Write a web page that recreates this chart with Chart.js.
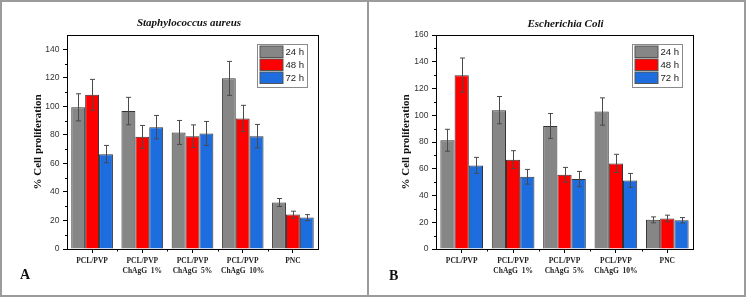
<!DOCTYPE html>
<html>
<head>
<meta charset="utf-8">
<script src="https://cdn.jsdelivr.net/npm/chart.js@4.4.0/dist/chart.umd.min.js"></script>
<style>
body { margin: 0; background: #fff; }
#frame { position: relative; width: 747px; height: 299px; overflow: hidden; }
canvas { position: absolute; top: 0; }
.box { position: absolute; top: 0; left: 0; width: 746px; height: 297px; border: 2px solid #9b9b9b; box-sizing: border-box; }
.divider { position: absolute; top: 0; left: 367px; width: 2px; height: 297px; background: #9b9b9b; }
.letter { position: absolute; font: bold 14px 'Liberation Serif', serif; color: #111; }
</style>
</head>
<body>
<div id="frame">
  <canvas id="gA" width="368" height="299" style="left:0"></canvas>
  <canvas id="gB" width="379" height="299" style="left:368px"></canvas>
  <div class="box"></div>
  <div class="divider"></div>
  <div class="letter" style="left:20px;top:267px">A</div>
  <div class="letter" style="left:389px;top:268px">B</div>
</div>
<script>
// categories + series
const categories = [['PCL/PVP'], ['PCL/PVP', 'ChAgG  1%'], ['PCL/PVP', 'ChAgG  5%'], ['PCL/PVP', 'ChAgG  10%'], ['PNC']];
const seriesLabels = ['24 h', '48 h', '72 h'];
const seriesColors = ['#868686', '#ff0000', '#1e6ddf'];

// A - Staphylococcus aureus
const staph24 = [99.3, 96.7, 81.7, 119.6, 32.6];
const staph48 = [108.1, 78.6, 79.1, 91.5, 24.1];
const staph72 = [66.5, 85.4, 81.0, 79.1, 22.0];
const staphErr24 = [9.5, 9.6, 8.4, 11.9, 2.8];
const staphErr48 = [10.8, 8.0, 7.9, 9.2, 2.4];
const staphErr72 = [6.1, 8.2, 8.4, 8.2, 2.1];

// B - Escherichia Coli
const coli24 = [81.3, 103.8, 92.0, 102.8, 21.8];
const coli48 = [130.0, 66.8, 55.5, 64.0, 22.8];
const coli72 = [62.5, 54.0, 52.3, 51.3, 21.5];
const coliErr24 = [8.2, 10.2, 9.3, 10.2, 2.2];
const coliErr48 = [12.8, 6.7, 5.5, 6.8, 2.5];
const coliErr72 = [6.0, 5.5, 5.7, 5.2, 2.0];

const serif = "'Liberation Serif', 'Times New Roman', serif";
const sans = "'Liberation Sans', Arial, sans-serif";

// error bars, frame, minor ticks, legend, title
const panelPlugin = {
  id: 'panel',
  afterDatasetsDraw(chart, args, opts) {
    const ctx = chart.ctx;
    const x = chart.scales.x;
    const y = chart.scales.y;
    const a = chart.chartArea;
    ctx.save();
    ctx.strokeStyle = '#4a4a4a';
    ctx.lineWidth = 1;
    chart.data.datasets.forEach((ds, di) => {
      chart.getDatasetMeta(di).data.forEach((bar, i) => {
        const v = ds.data[i], e = ds.errors[i];
        const top = y.getPixelForValue(v + e), bot = y.getPixelForValue(v - e);
        const px = Math.round(bar.x) + 0.5;
        ctx.beginPath();
        ctx.moveTo(px, top); ctx.lineTo(px, bot);
        ctx.moveTo(px - 2.5, top); ctx.lineTo(px + 2.5, top);
        ctx.moveTo(px - 2.5, bot); ctx.lineTo(px + 2.5, bot);
        ctx.stroke();
      });
    });

    // plot frame
    ctx.strokeStyle = '#000';
    ctx.strokeRect(Math.round(a.left) + 0.5, Math.round(a.top) + 0.5, Math.round(a.right - a.left), Math.round(a.bottom - a.top));

    // minor ticks
    ctx.beginPath();
    for (let v = 10; v < y.max; v += 20) {
      const py = Math.round(y.getPixelForValue(v)) + 0.5;
      ctx.moveTo(a.left - 2, py); ctx.lineTo(a.left, py);
    }
    for (let i = 0; i < categories.length - 1; i++) {
      const px = Math.round(x.getPixelForValue(i + 0.5)) + 0.5;
      ctx.moveTo(px, a.bottom); ctx.lineTo(px, a.bottom + 2.5);
    }
    ctx.stroke();

    // legend
    const lw = 50, lh = 43;
    const lx = Math.round(a.right - 11.5 - lw) + 0.5, ly = Math.round(a.top + 9) + 0.5;
    ctx.fillStyle = '#fff';
    ctx.fillRect(lx, ly, lw, lh);
    ctx.strokeStyle = '#8a8a8a';
    ctx.strokeRect(lx, ly, lw, lh);
    ctx.font = '9.6px ' + sans;
    ctx.textBaseline = 'middle';
    chart.data.datasets.forEach((ds, i) => {
      const ry = ly + 1.5 + i * 13;
      ctx.fillStyle = ds.backgroundColor;
      ctx.fillRect(lx + 2.5, ry, 23, 11.5);
      ctx.strokeStyle = '#555';
      ctx.strokeRect(lx + 2.5, ry, 23, 11.5);
      ctx.fillStyle = '#222';
      ctx.fillText(ds.label, lx + 28, ry + 6.5);
    });

    // title
    ctx.font = 'italic bold 11px ' + serif;
    ctx.fillStyle = '#111';
    ctx.textAlign = 'center';
    ctx.fillText(opts.text, (a.left + a.right) / 2 + opts.dx, opts.y);
    ctx.restore();
  }
};

function makeChart(id, title, dx, ty, ymax, axisWidth, padRight, vals, errs) {
  const datasets = seriesLabels.map((lab, i) => ({
    label: lab,
    data: vals[i],
    errors: errs[i],
    backgroundColor: seriesColors[i],
    borderColor: '#333',
    borderWidth: 1
  }));
  return new Chart(document.getElementById(id), {
    type: 'bar',
    data: { labels: categories, datasets: datasets },
    plugins: [panelPlugin],
    options: {
      responsive: false,
      animation: false,
      layout: { padding: { top: 35, right: padRight, left: 0, bottom: 0 } },
      datasets: { bar: { categoryPercentage: 0.83, barPercentage: 1 } },
      plugins: {
        legend: { display: false },
        tooltip: { enabled: false },
        panel: { text: title, dx: dx, y: ty }
      },
      scales: {
        x: {
          grid: { display: true, drawOnChartArea: false, offset: false, tickLength: 4, color: '#000', tickColor: '#000' },
          border: { color: '#000', width: 1 },
          ticks: { font: { family: serif, weight: 'bold', size: 7.5, lineHeight: 1.3 }, color: '#222', padding: 3, maxRotation: 0, autoSkip: false },
          afterFit(s) { s.height = 50; }
        },
        y: {
          min: 0,
          max: ymax,
          ticks: { stepSize: 10, font: { family: sans, size: 8.5 }, color: '#333', padding: 3.5 },
          afterBuildTicks(s) { s.ticks = s.ticks.filter(t => t.value % 20 === 0); },
          grid: { drawOnChartArea: false, tickLength: 4, color: '#000', tickColor: '#000' },
          border: { color: '#000', width: 1 },
          title: {
            display: true,
            text: '% Cell proliferation',
            font: { family: serif, weight: 'bold', size: 11 },
            color: '#111',
            padding: { top: 32, bottom: 0 }
          },
          afterFit(s) { s.width = axisWidth; }
        }
      }
    }
  });
}

makeChart('gA', 'Staphylococcus aureus', -3.5, 23, 150, 67, 50,
  [staph24, staph48, staph72], [staphErr24, staphErr48, staphErr72]);
makeChart('gB', 'Escherichia Coli', 1, 24.5, 160, 68, 54,
  [coli24, coli48, coli72], [coliErr24, coliErr48, coliErr72]);
</script>
</body>
</html>
